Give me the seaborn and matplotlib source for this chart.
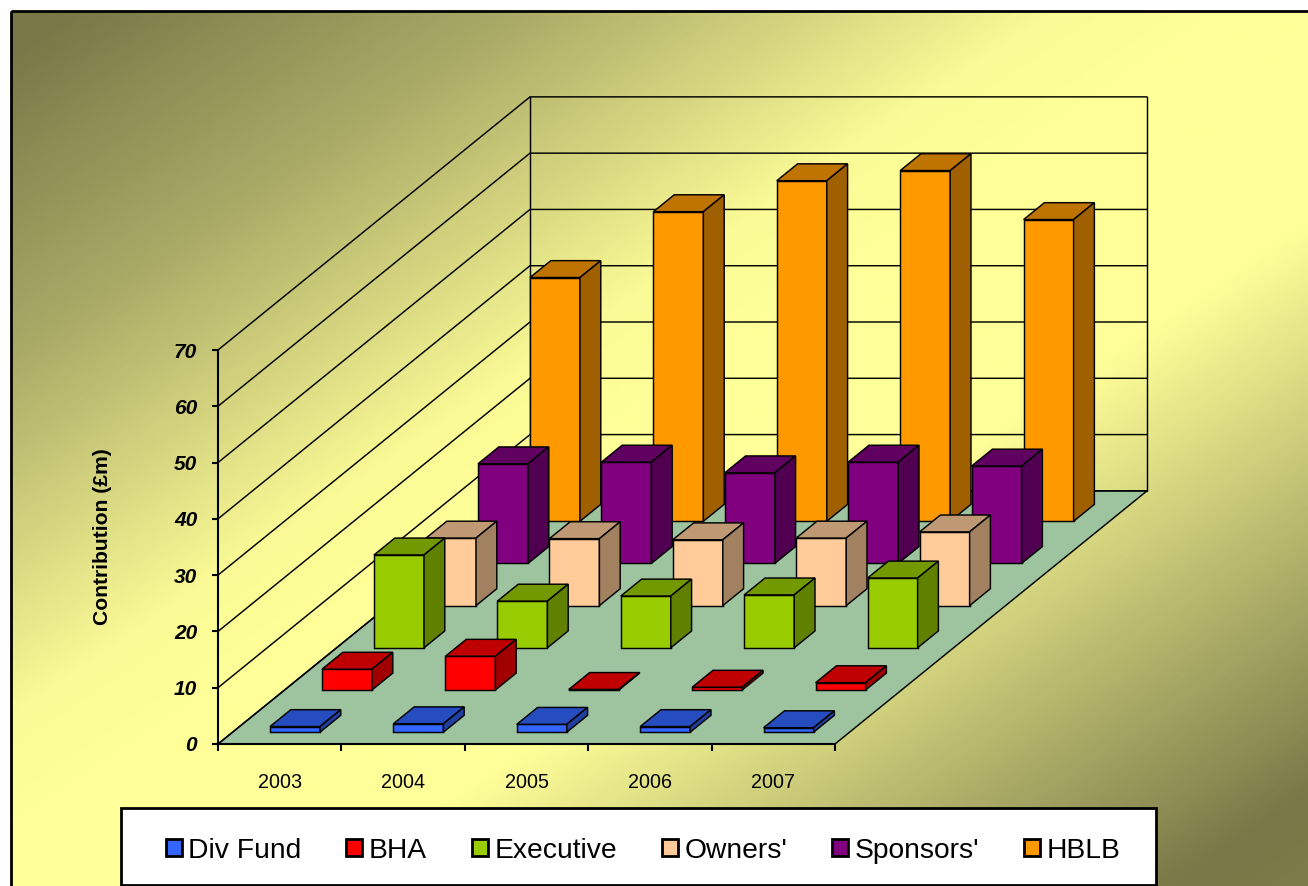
import numpy as np
import matplotlib
matplotlib.use("Agg")
import matplotlib.pyplot as plt
from matplotlib.colors import LinearSegmentedColormap, to_rgb
from matplotlib.patches import Patch, Polygon, Rectangle
from matplotlib.transforms import Affine2D
import seaborn as sns

# Values (front to back)
years = ["2003", "2004", "2005", "2006", "2007"]
series_names = ["Div Fund", "BHA", "Executive", "Owners'", "Sponsors'", "HBLB"]
div_fund = [1.0, 1.5, 1.4, 1.0, 0.8]
bha = [3.7, 6.0, 0.1, 0.5, 1.3]
executive = [16.5, 8.3, 9.2, 9.4, 12.4]
owners = [12.0, 11.9, 11.7, 12.0, 13.1]
sponsors = [17.7, 18.0, 16.1, 18.0, 17.3]
hblb = [43.3, 55.0, 60.5, 62.3, 53.6]
all_series = [div_fund, bha, executive, owners, sponsors, hblb]
colors = ["#3366FF", "#FF0000", "#99CC00", "#FFCC99", "#800080", "#FF9900"]
y_ticks = [0, 10, 20, 30, 40, 50, 60, 70]

# Oblique projection, in axis units per one series of depth
DX = 52 / 123.4
DZ = 42.2 / 5.63
BAR_START = 0.28
BAR_DEPTH = 0.4
BAR_SHIFT = 0.006
N_DEPTH = len(series_names)
EDGE = 1.05


def project(x, z, d):
    return (x + d * DX, z + d * DZ)


def shade(color, factor):
    return tuple(c * factor for c in to_rgb(color))


W, H = 1308, 887
sns.set_theme(style="ticks")
plt.rcParams["font.family"] = ["Liberation Sans", "DejaVu Sans"]

fig = plt.figure(figsize=(W / 100, H / 100), dpi=100, facecolor="white")

# Background gradient with the black border
bg = fig.add_axes([0, 0, 1, 1])
bg.set_axis_off()
gx, gy = np.meshgrid(np.linspace(0, 1, 400), np.linspace(0, 1, 300))
grad = (gx + gy) / 2
cmap = LinearSegmentedColormap.from_list(
    "olive", [(0, "#787848"), (0.02, "#787848"), (0.20, "#ACAC68"), (0.40, "#FAFA96"),
              (0.46, "#FFFF99"), (0.62, "#FFFF99"), (0.95, "#787848"), (1, "#7C7C4A")])
bg.imshow(grad, cmap=cmap, vmin=0, vmax=1, extent=(11, W + 2, H + 2, 12), aspect="auto", zorder=0)
bg.add_patch(Rectangle((11, 12), W, H, fill=False, edgecolor="black", linewidth=2, zorder=1))
# Legend box runs to the bottom of the picture
bg.add_patch(Rectangle((121, 809), 1035, 77, facecolor="white", edgecolor="black", linewidth=2, zorder=2))
bg.set_xlim(0, W)
bg.set_ylim(H, 0)

# Axes covers the front plane of the chart box
ax = fig.add_axes([218 / W, (H - 745) / H, (835 - 218) / W, 394 / H])
ax.patch.set_alpha(0)

# Walls and floor
x0, x1 = -0.5, len(years) - 0.5
floor = [project(x0, 0, 0), project(x1, 0, 0), project(x1, 0, N_DEPTH), project(x0, 0, N_DEPTH)]
ax.add_patch(Polygon(floor, closed=True, facecolor="#9DC49F", edgecolor="black", linewidth=EDGE,
                     clip_on=False, zorder=1))
for z in y_ticks:
    px = [project(x0, z, 0), project(x0, z, N_DEPTH), project(x1, z, N_DEPTH)]
    ax.plot(*zip(*px), color="black", linewidth=EDGE, clip_on=False, zorder=1.5)
for x in (x0, x1):
    px = [project(x, 0, N_DEPTH), project(x, y_ticks[-1], N_DEPTH)]
    ax.plot(*zip(*px), color="black", linewidth=EDGE, clip_on=False, zorder=1.5)

# Bars, back series first
for i in reversed(range(N_DEPTH)):
    zo = 10 + (N_DEPTH - i)
    col = colors[i]
    sns.barplot(x=years, y=all_series[i], ax=ax, color=col, saturation=1, width=0.405,
                edgecolor="black", linewidth=EDGE, errorbar=None)
    d0 = i + BAR_START
    d1 = d0 + BAR_DEPTH
    for rect in ax.containers[-1]:
        left, w, h = rect.get_x() + BAR_SHIFT, rect.get_width(), rect.get_height()
        px, pz = project(left, 0, d0)
        rect.set_x(px)
        rect.set_y(pz)
        rect.set_clip_on(False)
        rect.set_zorder(zo)
        top = [project(left, h, d0), project(left + w, h, d0), project(left + w, h, d1), project(left, h, d1)]
        side = [project(left + w, 0, d0), project(left + w, 0, d1), project(left + w, h, d1), project(left + w, h, d0)]
        for pts, fac in ((top, 0.75), (side, 0.63)):
            ax.add_patch(Polygon(pts, closed=True, facecolor=shade(col, fac), edgecolor="black",
                                 linewidth=EDGE, clip_on=False, zorder=zo))

ax.set_xlim(x0, x1)
ax.set_ylim(0, 70)

# Ticks sit on category boundaries, labels between them
ax.set_xticks(np.arange(x0, x1 + 0.1, 1))
ax.set_xticklabels([])
ax.set_xticks(range(len(years)), labels=years, minor=True)
ax.tick_params(axis="x", which="major", length=5, width=1.5, color="black")
ax.tick_params(axis="x", which="minor", length=0, pad=20, labelsize=14.2, labelcolor="black")
ax.set_yticks(y_ticks)
ax.set_yticklabels([str(v) for v in y_ticks], fontsize=15, fontweight="bold", fontstyle="italic", color="black")
ax.tick_params(axis="y", length=4, width=1.5, color="black", pad=11)
for lab in ax.get_yticklabels():
    lab.set_transform(lab.get_transform() + Affine2D().translate(0, 1))
sns.despine(ax=ax, top=True, right=True)
for s in ("left", "bottom"):
    ax.spines[s].set_color("black")
    ax.spines[s].set_linewidth(1.5)
    ax.spines[s].set_zorder(2)
ax.set_xlabel("")
ax.set_ylabel("")
fig.text(103 / W, (H - 537) / H, "Contribution (£m)", rotation=90, ha="center", va="center",
         fontsize=15.2, fontweight="bold", color="black")

handles = [Patch(facecolor=c, edgecolor="black", linewidth=2) for c in colors]
leg = fig.legend(handles, series_names, loc="center left", ncol=6,
                 bbox_to_anchor=(165.5 / W, (H - 851.5) / H), borderaxespad=0, borderpad=0,
                 fontsize=20.3, frameon=False, handlelength=0.58, handleheight=0.58,
                 handletextpad=0.23, columnspacing=1.58, labelcolor="black")

fig.savefig("out.png", dpi=100)
